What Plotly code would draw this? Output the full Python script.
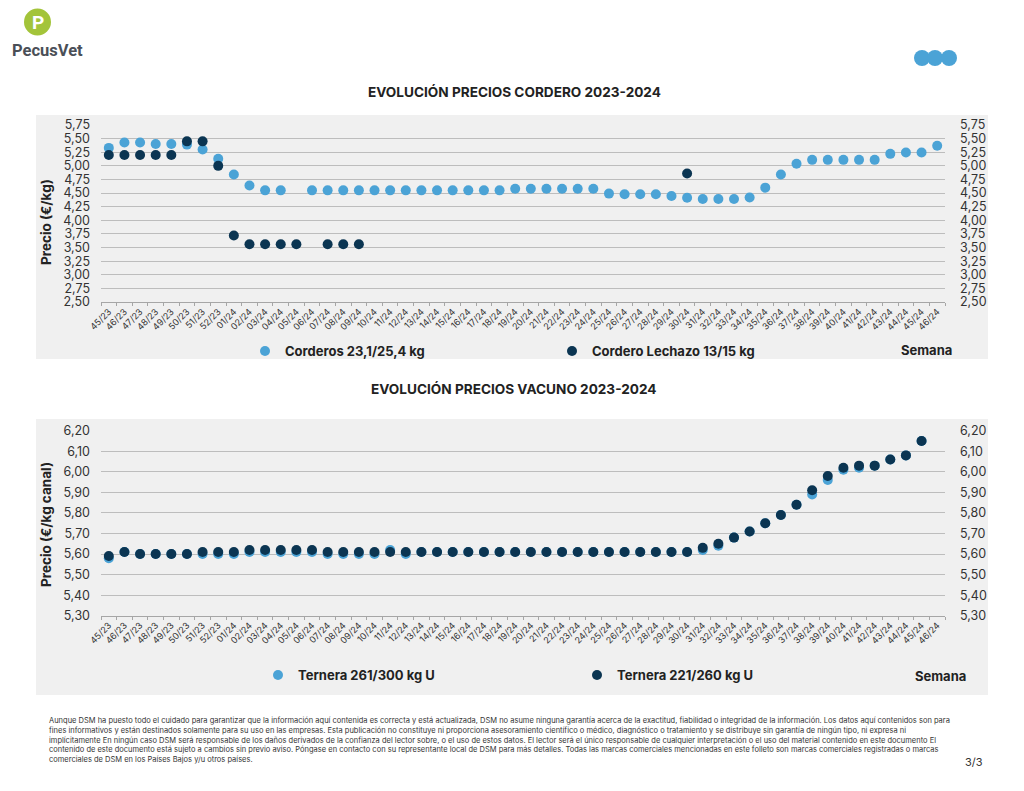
import plotly.graph_objects as go

OFF = 8                      # page body margin in the browser
W, H = 1024 - OFF, 791 - OFF

weeks = ["45/23", "46/23", "47/23", "48/23", "49/23", "50/23", "51/23", "52/23"] + \
        [f"{i:02d}/24" for i in range(1, 47)]

corderos = [5.33, 5.43, 5.43, 5.40, 5.40, 5.39, 5.30, 5.13,
            4.84, 4.64, 4.55, 4.55, None, 4.55, 4.55, 4.55, 4.55, 4.55,
            4.55, 4.55, 4.55, 4.55, 4.55, 4.55, 4.55, 4.55, 4.58, 4.58,
            4.58, 4.58, 4.58, 4.58, 4.49, 4.48, 4.48, 4.48, 4.445, 4.415,
            4.39, 4.39, 4.39, 4.42, 4.60, 4.84, 5.04, 5.11, 5.11, 5.11,
            5.11, 5.11, 5.22, 5.245, 5.245, 5.37]

lechazo = [5.20, 5.20, 5.20, 5.20, 5.20, 5.45, 5.45, 5.00,
           3.72, 3.56, 3.56, 3.56, 3.56, None, 3.56, 3.56, 3.56] + \
          [None] * 20 + [4.86] + [None] * 16

ternera_261 = [5.58, 5.61, 5.60, 5.60, 5.60, 5.60, 5.60, 5.60,
               5.60, 5.61, 5.61, 5.61, 5.61, 5.61, 5.60, 5.60, 5.60, 5.60,
               5.62, 5.60, 5.61, 5.61, 5.61, 5.61, 5.61, 5.61, 5.61, 5.61,
               5.61, 5.61, 5.61, 5.61, 5.61, 5.61, 5.61, 5.61, 5.61, 5.61,
               5.62, 5.64, 5.68, 5.71, 5.75, 5.79, 5.84, 5.89, 5.96, 6.01,
               6.02, 6.03, 6.06, 6.08, 6.15]
ternera_221 = [5.59, 5.61, 5.60, 5.60, 5.60, 5.60, 5.61, 5.61,
               5.61, 5.62, 5.62, 5.62, 5.62, 5.62, 5.61, 5.61, 5.61, 5.61,
               5.61, 5.61, 5.61, 5.61, 5.61, 5.61, 5.61, 5.61, 5.61, 5.61,
               5.61, 5.61, 5.61, 5.61, 5.61, 5.61, 5.61, 5.61, 5.61, 5.61,
               5.63, 5.65, 5.68, 5.71, 5.75, 5.79, 5.84, 5.91, 5.98, 6.02,
               6.03, 6.03, 6.06, 6.08, 6.15]

LIGHT = "#4BA3D6"
DARK = "#0B3552"
BOX = "#F0F0F0"
GRID = "#BDBDBD"
FONT = "Inter"
TXT = "#222222"


def px(x):
    return (x - OFF) / W


def py(y):
    return 1 - (y - OFF) / H


fig = go.Figure()

fig.add_trace(go.Scatter(x=weeks, y=corderos, mode="markers", name="Corderos 23,1/25,4 kg",
                         marker=dict(color=LIGHT, size=10), xaxis="x", yaxis="y", legend="legend"))
fig.add_trace(go.Scatter(x=weeks, y=lechazo, mode="markers", name="Cordero Lechazo 13/15 kg",
                         marker=dict(color=DARK, size=10), xaxis="x", yaxis="y2", legend="legend"))
fig.add_trace(go.Scatter(x=weeks, y=ternera_261, mode="markers", name="Ternera 261/300 kg U",
                         marker=dict(color=LIGHT, size=10), xaxis="x2", yaxis="y3", legend="legend2"))
fig.add_trace(go.Scatter(x=weeks, y=ternera_221, mode="markers", name="Ternera 221/260 kg U",
                         marker=dict(color=DARK, size=10), xaxis="x2", yaxis="y4", legend="legend2"))

xdom = [px(101), px(945)]
xcommon = dict(type="category", categoryorder="array", categoryarray=weeks,
               range=[-0.5, len(weeks) - 0.5], showgrid=False, showline=True,
               linecolor="#A6A6A6", linewidth=1, ticks="outside", tickson="boundaries",
               ticklen=3, tickcolor="#A6A6A6", tickangle=-45, automargin=False,
               tickfont=dict(family=FONT, size=9, color="#333333"), fixedrange=True)
ycommon = dict(showgrid=True, gridcolor=GRID, gridwidth=1.2, zeroline=False, showline=False,
               ticks="", tickformat=".2f", ticklabelstandoff=10, automargin=False,
               tickfont=dict(family=FONT, size=12.5, color="#333333"), fixedrange=True)
yright = {**ycommon, "showgrid": False, "ticklabelstandoff": 14}

top_dom = [py(302), py(125)]
bot_dom = [py(615.7), py(430.7)]
top_rng = [2.4999, 5.7501]
bot_rng = [5.2999, 6.2001]

legfont = dict(family=FONT, size=13, color=TXT, weight="bold")

fig.update_layout(
    width=W, height=H,
    margin=dict(l=0, r=0, t=0, b=0, autoexpand=False),
    paper_bgcolor="white", plot_bgcolor=BOX,
    separators=",.",
    font=dict(family=FONT, color=TXT),
    xaxis=dict(domain=xdom, anchor="y", **xcommon),
    xaxis2=dict(domain=xdom, anchor="y3", **xcommon),
    yaxis=dict(domain=top_dom, range=top_rng, dtick=0.25, anchor="x", **ycommon),
    yaxis2=dict(domain=top_dom, range=top_rng, dtick=0.25, overlaying="y", side="right",
                anchor="x", **yright),
    yaxis3=dict(domain=bot_dom, range=bot_rng, dtick=0.1, anchor="x2", **ycommon),
    yaxis4=dict(domain=bot_dom, range=bot_rng, dtick=0.1, overlaying="y3", side="right",
                anchor="x2", **yright),
    legend=dict(orientation="h", x=px(245), y=py(351), xanchor="left", yanchor="middle",
                bgcolor="rgba(0,0,0,0)", entrywidth=262, entrywidthmode="pixels",
                itemwidth=30, font=legfont),
    legend2=dict(orientation="h", x=px(258), y=py(675), xanchor="left", yanchor="middle",
                 bgcolor="rgba(0,0,0,0)", entrywidth=274, entrywidthmode="pixels",
                 itemwidth=30, font=legfont),
    showlegend=True,
)

shapes = [
    dict(type="rect", xref="paper", yref="paper", x0=px(36), x1=px(988), y0=py(359), y1=py(115),
         fillcolor=BOX, line=dict(width=0), layer="below"),
    dict(type="rect", xref="paper", yref="paper", x0=px(36), x1=px(988), y0=py(695), y1=py(419),
         fillcolor=BOX, line=dict(width=0), layer="below"),
    # logo circle
    dict(type="circle", xref="paper", yref="paper", x0=px(24), x1=px(51), y0=py(35.5), y1=py(8.5),
         fillcolor="#A3C43A", line=dict(width=0)),
]
for cx in (922, 935, 949):
    shapes.append(dict(type="circle", xref="paper", yref="paper", x0=px(cx - 8), x1=px(cx + 8),
                       y0=py(66), y1=py(50), fillcolor=LIGHT, line=dict(width=0)))
fig.update_layout(shapes=shapes)

footer = ("Aunque DSM ha puesto todo el cuidado para garantizar que la información aquí contenida es correcta y está actualizada, DSM no asume ninguna garantía acerca de la exactitud, fiabilidad o integridad de la información. Los datos aquí contenidos son para<br>"
          "fines informativos y están destinados solamente para su uso en las empresas. Esta publicación no constituye ni proporciona asesoramiento científico o médico, diagnóstico o tratamiento y se distribuye sin garantía de ningún tipo, ni expresa ni<br>"
          "implícitamente En ningún caso DSM será responsable de los daños derivados de la confianza del lector sobre, o el uso de estos datos. El lector será el único responsable de cualquier interpretación o el uso del material contenido en este documento El<br>"
          "contenido de este documento está sujeto a cambios sin previo aviso. Póngase en contacto con su representante local de DSM para más detalles. Todas las marcas comerciales mencionadas en este folleto son marcas comerciales registradas o marcas<br>"
          "comerciales de DSM en los Países Bajos y/u otros países.")

ann = [
    dict(text="<b>EVOLUCIÓN PRECIOS CORDERO 2023-2024</b>", x=px(514), y=py(92),
         font=dict(size=13.6, color=TXT)),
    dict(text="<b>EVOLUCIÓN PRECIOS VACUNO 2023-2024</b>", x=px(513), y=py(389),
         font=dict(size=13.6, color=TXT)),
    dict(text="<b>Precio (€/kg)</b>", x=px(46), y=py(222), textangle=-90,
         font=dict(size=13.5, color=TXT)),
    dict(text="<b>Precio (€/kg canal)</b>", x=px(46), y=py(525), textangle=-90,
         font=dict(size=13.5, color=TXT)),
    dict(text="<b>Semana</b>", x=px(926), y=py(350), font=dict(size=13, color=TXT)),
    dict(text="<b>Semana</b>", x=px(940), y=py(676), font=dict(size=13, color=TXT)),
    dict(text=footer, x=px(47), y=py(740), xanchor="left", align="left",
         font=dict(size=7.5, color="#333333")),
    dict(text="3/3", x=px(974), y=py(762), font=dict(size=11, color="#333333")),
    dict(text="<b>P</b>", x=px(37.5), y=py(22), font=dict(family="Roboto", size=19, color="white")),
    dict(text="<b>PecusVet</b>", x=px(10), y=py(51), xanchor="left",
         font=dict(family="Liberation Sans Narrow, Roboto", size=16.5, color="#4A4F57")),
]
for a in ann:
    a.setdefault("xref", "paper")
    a.setdefault("yref", "paper")
    a.setdefault("showarrow", False)
    a.setdefault("xanchor", "center")
    a.setdefault("yanchor", "middle")
fig.update_layout(annotations=ann)

fig.write_html("out.html")
